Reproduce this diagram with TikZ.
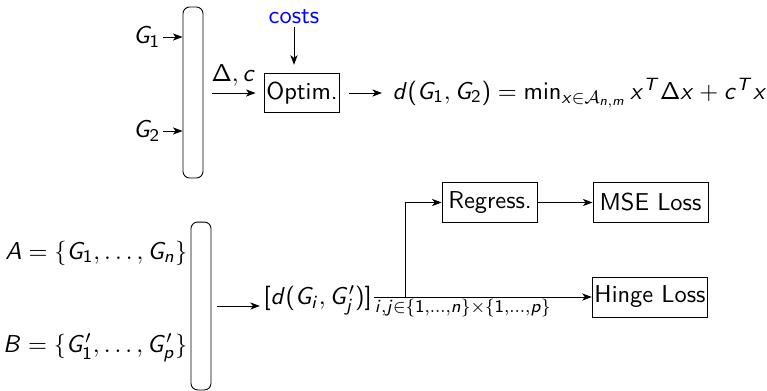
\documentclass[tikz,border=0pt]{standalone}
\usetikzlibrary{arrows.meta,calc}
% sans-serif math in the style of beamer
\DeclareSymbolFont{sflet}{OT1}{cmss}{m}{sl}
\SetSymbolFont{operators}{normal}{OT1}{cmss}{m}{n}
\makeatletter
\@tempcnta=`a
\loop
  \mathcode\@tempcnta=\numexpr "7000+\symsflet*256+\@tempcnta\relax
  \ifnum\@tempcnta<`z \advance\@tempcnta 1 \repeat
\@tempcnta=`A
\loop
  \mathcode\@tempcnta=\numexpr "7000+\symsflet*256+\@tempcnta\relax
  \ifnum\@tempcnta<`Z \advance\@tempcnta 1 \repeat
\makeatother
\begin{document}
\begin{tikzpicture}[x=0.4485pt,y=-0.4485pt,
  every node/.style={font=\fontsize{10.95}{13}\selectfont\sffamily, inner sep=1pt},
  box/.style={draw, inner sep=1pt, minimum height=17.7pt},
  arr/.style={-{Stealth[length=4.3pt,width=3.2pt,inset=1.2pt]}},
  rbar/.style={draw, rounded corners=3pt, minimum width=9pt, inner sep=0pt},
]
\useasboundingbox (0,0) rectangle (767,391);

% ---------- top part ----------
\node[rbar, minimum height=76.7pt] (tbar) at (193,92.5) {};
\node[anchor=east] (g1) at (163,37) {$G_1$};
\node[anchor=east] (g2) at (163,131) {$G_2$};
\draw[arr] (g1.east) -- (g1.east -| tbar.west);
\draw[arr] (g2.east) -- (g2.east -| tbar.west);

\node[text=blue] (costs) at (294,17) {costs};
\node[box, minimum width=30.5pt] (optim) at (302,93) {Optim.};
\node[anchor=west] (dist) at (390,93)
  {$d(G_1, G_2) = \min_{x\in\mathcal{A}_{n,m}} x^T\Delta x + c^T x$};

\draw[arr, shorten >=3.6pt] (costs.south) -- (costs.south |- optim.north);
\draw[arr, shorten <=4pt, shorten >=3.6pt] (tbar.east |- optim.west)
  -- node[above, inner sep=3pt] {$\Delta, c$} (optim.west);
\draw[arr, shorten <=4pt, shorten >=3.6pt] (optim.east) -- (dist.west);

% ---------- bottom part ----------
\node[rbar, minimum height=75.3pt] (bbar) at (201,306) {};
\node[anchor=east] (setA) at (190,253) {$A = \{G_1, \ldots, G_n\}$};
\node[anchor=east] (setB) at (190,348) {$B = \{G'_1, \ldots, G'_p\}$};

\node[anchor=west] (dmat) at (261,300) {$[d(G_i, G'_j)]$};
\node[anchor=west, inner sep=0pt] (dsub) at (dmat.east |- 0,308)
  {$\scriptstyle i,j\in\{1,\ldots,n\}\times\{1,\ldots,p\}$};

\node[box, minimum width=43pt] (regress) at (490,202.5) {Regress.};
\node[box, minimum width=51.6pt] (mse) at (650.5,202.5) {MSE Loss};
\node[box, minimum width=51.1pt, minimum height=17.9pt] (hinge) at (650,297) {Hinge Loss};

\draw[arr, shorten <=2.7pt, shorten >=0.5pt] (bbar.east) -- (bbar.east -| dmat.west);
\draw[arr] (dmat.east |- hinge.west) -- (hinge.west);
\coordinate (br) at (405,297);
\draw[arr] (br) |- (regress.west);
\draw[arr] (regress) -- (mse);
\end{tikzpicture}
\end{document}
